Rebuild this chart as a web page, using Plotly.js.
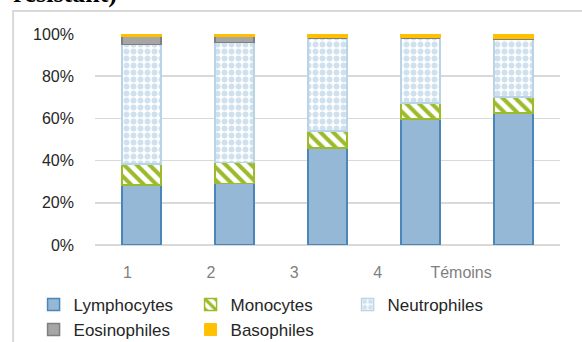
<!DOCTYPE html>
<html>
<head>
<meta charset="utf-8">
<script src="https://cdn.plot.ly/plotly-3.0.1.min.js"></script>
<style>
  html, body { margin: 0; padding: 0; background: #ffffff; }
  #chart { width: 582px; height: 342px; }
</style>
</head>
<body>
<div id="chart"></div>
<script>
// Groups and white blood cell distribution (% of total)
const groups = ['1', '2', '3', '4', 'Témoins'];
const lymphocytes  = [28.5, 29.2, 46.0, 59.6, 62.6];
const monocytes    = [9.8, 9.8, 8.0, 7.8, 7.5];
const neutrophiles = [56.7, 57.0, 44.2, 30.8, 27.2];
const eosinophiles = [4.0, 3.0, 0.0, 0.0, 0.7];
const basophiles   = [1.0, 1.0, 1.8, 1.8, 2.0];
const yTicks = [0, 20, 40, 60, 80, 100];

// plot area in pixels
const W = 582, H = 342;
const L = 94.5, R = 560, T = 33.5, B = 245;
const pw = R - L, ph = B - T;
const px = v => (v - L) / pw;
const py = v => (B - v) / ph;

const traces = [
  { name: 'Lymphocytes', y: lymphocytes,
    marker: { color: '#96b8d7', line: { color: '#4a86b8', width: 1.5 } } },
  { name: 'Monocytes', y: monocytes,
    marker: { color: '#ffffff', line: { color: '#9bbb2a', width: 1.5 },
      pattern: { shape: '\\', fgcolor: '#9bbb2a', bgcolor: '#ffffff', size: 9, solidity: 0.45 } } },
  { name: 'Neutrophiles', y: neutrophiles,
    marker: { color: '#ffffff', line: { color: '#b9d4e7', width: 1.5 },
      pattern: { shape: '.', fgcolor: '#cfe1ee', bgcolor: '#ffffff', size: 7, solidity: 0.55 } } },
  { name: 'Eosinophiles', y: eosinophiles,
    marker: { color: '#a6a6a6', line: { color: '#7f7f7f', width: 1.5 } } },
  { name: 'Basophiles', y: basophiles,
    marker: { color: '#ffc000', line: { color: '#ffc000', width: 1 } } }
].map(t => Object.assign({ type: 'bar', x: groups, hoverinfo: 'skip' }, t));

// carrier for the group labels axis
traces.push({
  type: 'scatter', mode: 'markers', xaxis: 'x2', yaxis: 'y',
  x: groups.map((g, i) => i), y: groups.map(() => null),
  showlegend: false, hoverinfo: 'skip'
});

const layout = {
  width: W, height: H,
  margin: { l: L, r: W - R, t: T, b: H - B, pad: 0, autoexpand: false },
  paper_bgcolor: '#ffffff', plot_bgcolor: '#ffffff',
  barmode: 'stack', bargap: 0.58,
  font: { family: 'Liberation Sans, Arial, sans-serif', size: 16, color: '#404040' },
  showlegend: true,
  legend: {
    orientation: 'h', x: px(33), xanchor: 'left', y: py(287), yanchor: 'top',
    entrywidth: 112, entrywidthmode: 'pixels', traceorder: 'normal',
    font: { size: 17, color: '#262626' }, bgcolor: 'rgba(0,0,0,0)', itemclick: false
  },
  xaxis: {
    type: 'category', showticklabels: false, showgrid: false, zeroline: false,
    showline: false, ticks: '', fixedrange: true
  },
  xaxis2: {
    overlaying: 'x', anchor: 'y', side: 'bottom', type: 'linear',
    range: [-0.389, 5.186], tickvals: groups.map((g, i) => i), ticktext: groups,
    showgrid: false, zeroline: false, showline: false, ticks: '',
    tickfont: { size: 16, color: '#7f7f7f' }, ticklabelstandoff: 16, fixedrange: true
  },
  yaxis: {
    range: [0, 100], tickvals: yTicks, ticktext: yTicks.map(v => v + '%'),
    showgrid: true, gridcolor: '#d9d9d9', gridwidth: 1.5,
    zeroline: true, zerolinecolor: '#d9d9d9', zerolinewidth: 1.5,
    showline: false, ticks: '', ticklabelstandoff: 20,
    tickfont: { size: 16, color: '#262626' }, fixedrange: true
  },
  shapes: [{
    type: 'rect', xref: 'paper', yref: 'paper', layer: 'below',
    x0: px(12.5), x1: px(600), y0: py(400), y1: py(10.5),
    line: { color: '#d9d9d9', width: 2 }, fillcolor: 'rgba(0,0,0,0)'
  }],
  annotations: [{
    xref: 'paper', yref: 'paper', x: px(10), y: py(9.5), xanchor: 'left', yanchor: 'bottom',
    text: '<b>résistant)</b>', showarrow: false,
    font: { family: 'Liberation Serif, Times New Roman, serif', size: 26, color: '#000000' }
  }]
};

Plotly.newPlot('chart', traces, layout, { displayModeBar: false, staticPlot: true });
</script>
</body>
</html>
